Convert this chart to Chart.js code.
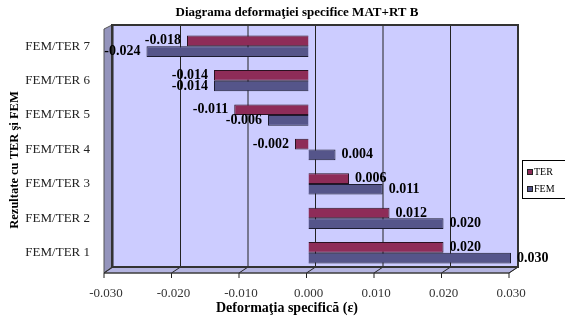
<!DOCTYPE html>
<html>
<head>
<meta charset="utf-8">
<script src="https://cdn.jsdelivr.net/npm/chart.js@4.4.1/dist/chart.umd.min.js"></script>
<style>
  html, body { margin: 0; background: #fff; }
  #wrap { width: 565px; height: 320px; }
</style>
</head>
<body>
<div id="wrap"><canvas id="chart"></canvas></div>
<script>
const categories = ['FEM/TER 1', 'FEM/TER 2', 'FEM/TER 3', 'FEM/TER 4', 'FEM/TER 5', 'FEM/TER 6', 'FEM/TER 7'];
const terValues = [0.020, 0.012, 0.006, -0.002, -0.011, -0.014, -0.018];
const femValues = [0.030, 0.020, 0.011, 0.004, -0.006, -0.014, -0.024];
const xTicks = [-0.03, -0.02, -0.01, 0, 0.01, 0.02, 0.03];

const SERIF = "'Liberation Serif', 'Times New Roman', serif";

// back wall, floor and side wall of the old 3D excel look
const wallPlugin = {
    id: 'walls',
    beforeDatasetsDraw(chart) {
        const { ctx, chartArea: a, scales: { x } } = chart;
        const fl = a.left - 2, fb = a.bottom + 3;   // front corner
        const bl = a.left + 6, bb = a.bottom - 3;   // back corner
        const br = a.right + 7, top = a.top - 4;
        ctx.save();
        ctx.fillStyle = '#ccccff';
        ctx.fillRect(bl, top, br - bl, bb - top);
        // left wall
        ctx.fillStyle = '#9494bc';
        ctx.beginPath();
        ctx.moveTo(fl, top + 4); ctx.lineTo(bl, top); ctx.lineTo(bl, bb); ctx.lineTo(fl, fb);
        ctx.closePath(); ctx.fill();
        ctx.strokeStyle = '#555'; ctx.lineWidth = 1; ctx.stroke();
        // floor
        ctx.fillStyle = '#b4b4e0';
        ctx.beginPath();
        ctx.moveTo(fl, fb); ctx.lineTo(a.right - 2, fb); ctx.lineTo(br, bb); ctx.lineTo(bl, bb);
        ctx.closePath(); ctx.fill(); ctx.stroke();
        // grid lines
        ctx.strokeStyle = '#222';
        xTicks.forEach(v => {
            const px = x.getPixelForValue(v);
            ctx.beginPath();
            ctx.moveTo(px + 7, top); ctx.lineTo(px + 7, bb); ctx.lineTo(px - 2, fb); ctx.lineTo(px - 2, fb + 5);
            ctx.stroke();
        });
        ctx.strokeStyle = '#333';
        ctx.lineWidth = 2;
        ctx.strokeRect(bl, top, br - bl, bb - top);
        ctx.lineWidth = 1;
        ctx.beginPath(); ctx.moveTo(fl, fb); ctx.lineTo(a.right - 2, fb); ctx.stroke();
        ctx.restore();
    }
};

const labelPlugin = {
    id: 'extras',
    afterDraw(chart) {
        const { ctx } = chart;
        ctx.save();
        ctx.fillStyle = '#000';
        ctx.textBaseline = 'middle';

        ctx.font = 'bold 13px ' + SERIF;
        ctx.textAlign = 'center';
        ctx.fillText('Diagrama deformaţiei specifice MAT+RT B', 297, 13);

        ctx.font = 'bold 14px ' + SERIF;
        chart.data.datasets.forEach((ds, i) => {
            chart.getDatasetMeta(i).data.forEach((bar, j) => {
                const v = ds.data[j];
                const txt = v.toFixed(3);
                if (v < 0) {
                    ctx.textAlign = 'right';
                    ctx.fillText(txt, bar.x - 6, bar.y);
                } else {
                    ctx.textAlign = 'left';
                    ctx.fillText(txt, bar.x + 6, bar.y);
                }
            });
        });

        // axis titles
        ctx.font = 'bold 14px ' + SERIF;
        ctx.textAlign = 'center';
        ctx.fillText('Deformaţia specifică (ε)', 287, 308);
        ctx.save();
        ctx.translate(15, 160);
        ctx.rotate(-Math.PI / 2);
        ctx.font = 'bold 12.5px ' + SERIF;
        ctx.fillText('Rezultate cu TER şi FEM', 0, 0);
        ctx.restore();

        // legend
        ctx.fillStyle = '#fff';
        ctx.fillRect(522.5, 160.5, 44, 38);
        ctx.strokeStyle = '#000';
        ctx.strokeRect(522.5, 160.5, 44, 38);
        ctx.font = '10px ' + SERIF;
        ctx.textAlign = 'left';
        chart.data.datasets.forEach((ds, i) => {
            const y = 172 + i * 17;
            ctx.fillStyle = ds.backgroundColor;
            ctx.fillRect(527, y - 3, 6, 6);
            ctx.strokeStyle = '#222';
            ctx.strokeRect(527.5, y - 2.5, 5, 5);
            ctx.fillStyle = '#000';
            ctx.fillText(ds.label, 534, y);
        });
        ctx.restore();
    }
};

new Chart(document.getElementById('chart'), {
    type: 'bar',
    data: {
        labels: categories,
        datasets: [
            { label: 'TER', data: terValues, backgroundColor: '#8e2c58', borderColor: '#2a1020', borderWidth: 1 },
            { label: 'FEM', data: femValues, backgroundColor: '#55558a', borderColor: '#1c1c30', borderWidth: 1 }
        ]
    },
    options: {
        indexAxis: 'y',
        responsive: true,
        maintainAspectRatio: false,
        animation: false,
        layout: { padding: { left: 0, right: 54, top: 29, bottom: 0 } },
        datasets: { bar: { categoryPercentage: 0.62, barPercentage: 1 } },
        plugins: {
            legend: { display: false },
            tooltip: { enabled: false },
            title: { display: false }
        },
        scales: {
            x: {
                min: -0.03,
                max: 0.03,
                afterBuildTicks: s => { s.ticks = xTicks.map(v => ({ value: v })); },
                afterFit: s => { s.height = 50; },
                grid: { display: false },
                border: { display: false },
                ticks: {
                    callback: v => v.toFixed(3),
                    color: '#333',
                    padding: 8,
                    font: { family: SERIF, size: 13 }
                }
            },
            y: {
                reverse: true,
                afterFit: s => { s.width = 106; },
                grid: { display: false },
                border: { display: false },
                ticks: {
                    color: '#222',
                    padding: 8,
                    font: { family: SERIF, size: 13 }
                }
            }
        }
    },
    plugins: [wallPlugin, labelPlugin]
});
</script>
</body>
</html>
